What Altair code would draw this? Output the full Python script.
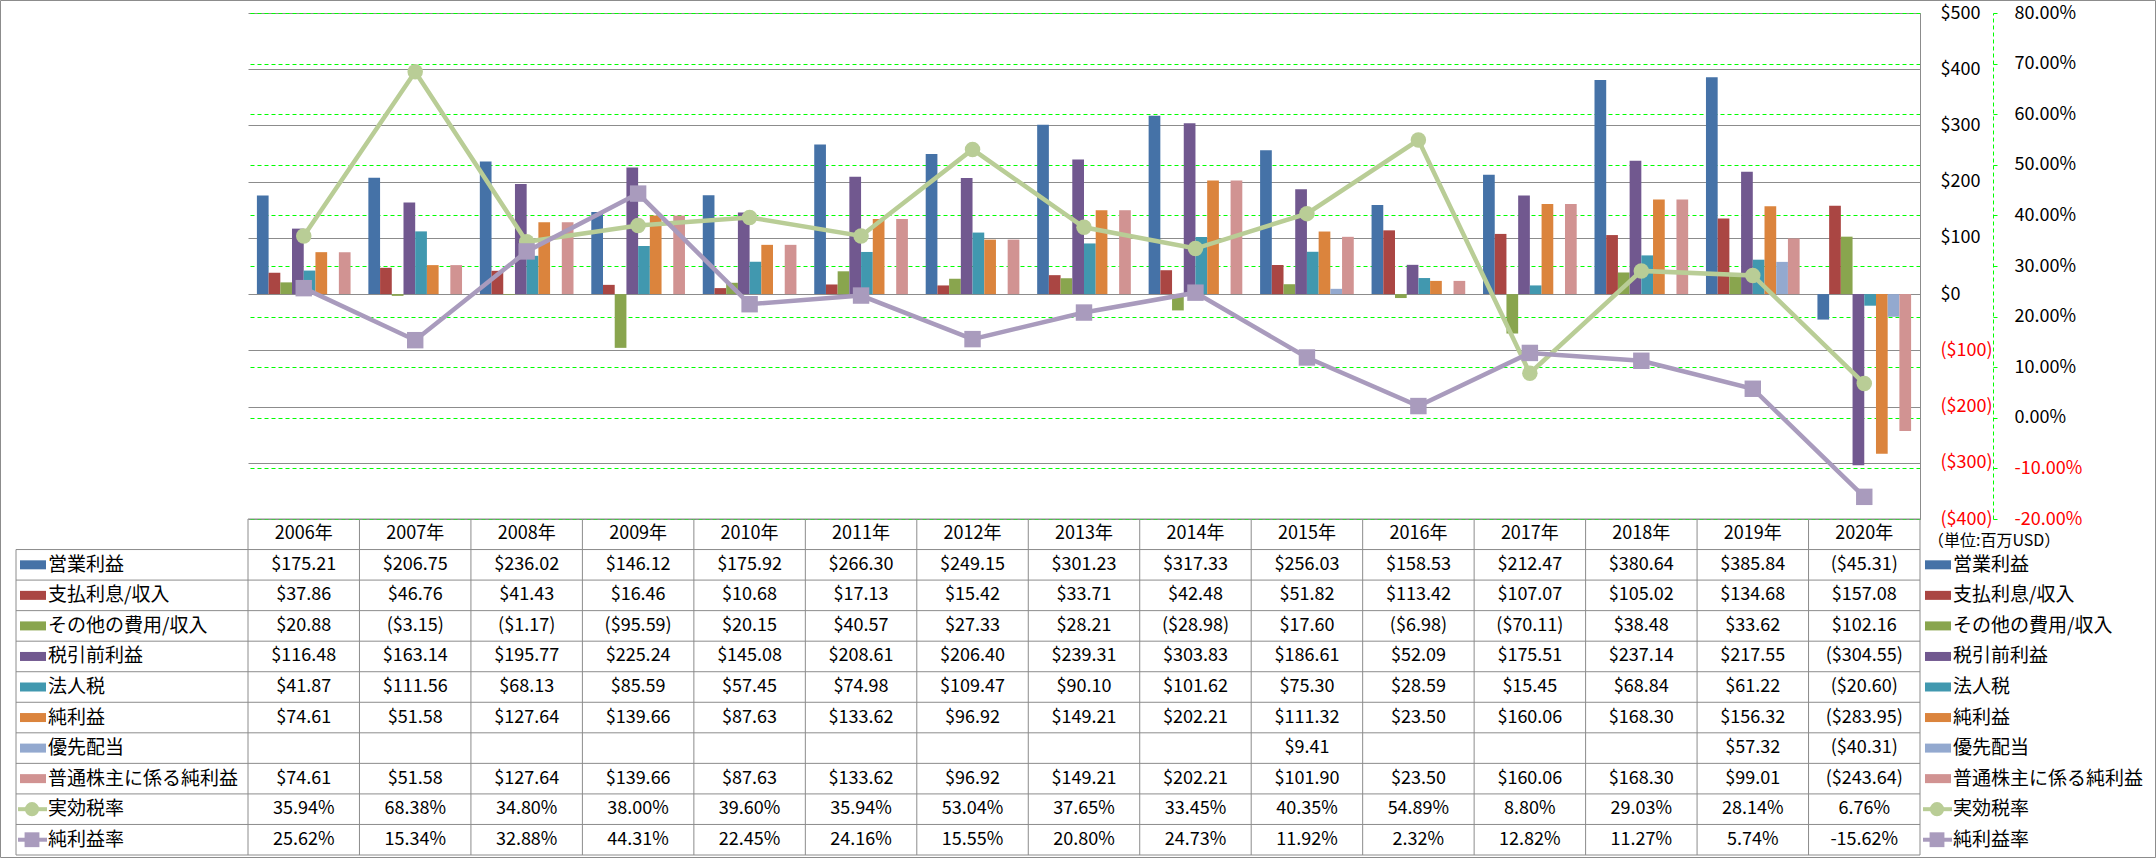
import altair as alt
import pandas as pd

# ---------------- data ----------------
years = [f"{y}年" for y in range(2006, 2021)]

bar_series = ["営業利益", "支払利息/収入", "その他の費用/収入", "税引前利益",
              "法人税", "純利益", "優先配当", "普通株主に係る純利益"]
bar_colors = ["#4572A7", "#AA4643", "#89A54E", "#71588F",
              "#4198AF", "#DB843D", "#93A9CF", "#D19392"]
line_series = ["実効税率", "純利益率"]
line_colors = ["#B9CD96", "#A99BBD"]

operating_income = [175.21, 206.75, 236.02, 146.12, 175.92, 266.30, 249.15, 301.23,
                    317.33, 256.03, 158.53, 212.47, 380.64, 385.84, -45.31]
interest = [37.86, 46.76, 41.43, 16.46, 10.68, 17.13, 15.42, 33.71,
            42.48, 51.82, 113.42, 107.07, 105.02, 134.68, 157.08]
other = [20.88, -3.15, -1.17, -95.59, 20.15, 40.57, 27.33, 28.21,
         -28.98, 17.60, -6.98, -70.11, 38.48, 33.62, 102.16]
pretax = [116.48, 163.14, 195.77, 225.24, 145.08, 208.61, 206.40, 239.31,
          303.83, 186.61, 52.09, 175.51, 237.14, 217.55, -304.55]
tax = [41.87, 111.56, 68.13, 85.59, 57.45, 74.98, 109.47, 90.10,
       101.62, 75.30, 28.59, 15.45, 68.84, 61.22, -20.60]
net = [74.61, 51.58, 127.64, 139.66, 87.63, 133.62, 96.92, 149.21,
       202.21, 111.32, 23.50, 160.06, 168.30, 156.32, -283.95]
preferred = [None, None, None, None, None, None, None, None,
             None, 9.41, None, None, None, 57.32, -40.31]
common = [74.61, 51.58, 127.64, 139.66, 87.63, 133.62, 96.92, 149.21,
          202.21, 101.90, 23.50, 160.06, 168.30, 99.01, -243.64]
eff_tax = [35.94, 68.38, 34.80, 38.00, 39.60, 35.94, 53.04, 37.65,
           33.45, 40.35, 54.89, 8.80, 29.03, 28.14, 6.76]
net_margin = [25.62, 15.34, 32.88, 44.31, 22.45, 24.16, 15.55, 20.80,
              24.73, 11.92, 2.32, 12.82, 11.27, 5.74, -15.62]

bar_values = [operating_income, interest, other, pretax, tax, net, preferred, common]
line_values = [eff_tax, net_margin]

y_ticks = [-400, -300, -200, -100, 0, 100, 200, 300, 400, 500]
pct_ticks = [-0.2, -0.1, 0.0, 0.1, 0.2, 0.3, 0.4, 0.5, 0.6, 0.7, 0.8]
unit_label = "（単位:百万USD）"

HEADER = "_header"
rows_all = [HEADER] + bar_series + line_series

# ---------------- frames ----------------
def money(v):
    if v is None:
        return ""
    return f"(${-v:.2f})" if v < 0 else f"${v:.2f}"

def pct(v):
    return f"{v:.2f}%"

bars_df = pd.DataFrame([
    {"year": yr, "series": s, "value": v}
    for s, vals in zip(bar_series, bar_values)
    for yr, v in zip(years, vals) if v is not None
])
lines_df = pd.DataFrame([
    {"year": yr, "series": s, "rate": v / 100.0}
    for s, vals in zip(line_series, line_values)
    for yr, v in zip(years, vals)
])
table_rows = [{"year": yr, "row": HEADER, "text": yr} for yr in years]
for s, vals in zip(bar_series, bar_values):
    table_rows += [{"year": yr, "row": s, "text": money(v)} for yr, v in zip(years, vals)]
for s, vals in zip(line_series, line_values):
    table_rows += [{"year": yr, "row": s, "text": pct(v)} for yr, v in zip(years, vals)]
table_df = pd.DataFrame(table_rows)

FONT = "Noto Sans CJK JP"
GRID = "#8C8C8C"
LIME = "#00FF00"
W, H = 1672, 506

x_scale = alt.Scale(type="band", domain=years, paddingInner=0, paddingOuter=0)
row_scale = alt.Scale(type="band", domain=rows_all, range=[506, 842], paddingInner=0, paddingOuter=0)
color_scale = alt.Scale(domain=bar_series, range=bar_colors)


def X(bp=None):
    if bp is None:
        return alt.X("year:N", scale=x_scale, axis=None)
    return alt.X("year:N", scale=x_scale, axis=None, bandPosition=bp)


def RY(field="row", bp=0.5):
    return alt.Y(f"{field}:N", scale=row_scale, axis=None, bandPosition=bp)


# ---------------- plot ----------------
bars = alt.Chart(bars_df).mark_bar().encode(
    x=X(),
    xOffset=alt.XOffset("series:N", scale=alt.Scale(domain=bar_series, paddingInner=0, paddingOuter=0.76)),
    y=alt.Y("value:Q",
            scale=alt.Scale(domain=[-400, 500], nice=False),
            axis=alt.Axis(orient="right", values=y_ticks, title=None,
                          labelExpr="datum.value < 0 ? '($' + format(-datum.value, 'd') + ')' : '$' + format(datum.value, 'd')",
                          labelColor={"condition": {"test": "datum.value < 0", "value": "#FF0000"}, "value": "#000000"},
                          grid=True, gridColor=GRID, gridWidth=1,
                          domain=True, domainColor=GRID, domainWidth=1,
                          ticks=False, tickSize=0, labelPadding=20,
                          labelAlign="left", labelFont=FONT, labelFontSize=18)),
    color=alt.Color("series:N", scale=color_scale, legend=None),
)

pct_axis = alt.Axis(orient="right", offset=73, values=pct_ticks, title=None,
                    labelExpr="(datum.value < -0.0001 ? '-' : '') + format(abs(datum.value) * 100, '.2f') + '%'",
                    labelColor={"condition": {"test": "datum.value < -0.0001", "value": "#FF0000"}, "value": "#000000"},
                    grid=True, gridColor=LIME, gridDash=[4, 3], gridWidth=1,
                    domain=True, domainColor=LIME, domainDash=[4, 3], domainWidth=1,
                    ticks=True, tickColor=LIME, tickSize=4, labelPadding=17,
                    labelAlign="left", labelFont=FONT, labelFontSize=18)
pct_scale = alt.Scale(domain=[-0.2, 0.8], nice=False)

green_df = lines_df[lines_df.series == line_series[0]]
purple_df = lines_df[lines_df.series == line_series[1]]

green_line = alt.Chart(green_df).mark_line(color=line_colors[0], strokeWidth=4.5).encode(
    x=X(), y=alt.Y("rate:Q", scale=pct_scale, axis=pct_axis))
green_pts = alt.Chart(green_df).mark_point(shape="circle", filled=True, size=240, opacity=1,
                                           color=line_colors[0]).encode(
    x=X(), y=alt.Y("rate:Q", scale=pct_scale, axis=None))
purple_line = alt.Chart(purple_df).mark_line(color=line_colors[1], strokeWidth=4.5).encode(
    x=X(), y=alt.Y("rate:Q", scale=pct_scale, axis=None))
purple_pts = alt.Chart(purple_df).mark_point(shape="square", filled=True, size=270, opacity=1,
                                             color=line_colors[1]).encode(
    x=X(), y=alt.Y("rate:Q", scale=pct_scale, axis=None))

# ---------------- data table ----------------
table_text = alt.Chart(table_df).mark_text(font=FONT, fontSize=18, color="#000000", baseline="middle").encode(
    x=X(), y=RY(), text="text:N")

hrule_df = pd.DataFrame({"row": rows_all[1:]})
h_rules = alt.Chart(hrule_df).mark_rule(color=GRID, strokeWidth=1).encode(
    x=alt.value(-232), x2=alt.value(W), y=RY(bp=0))
h_top = alt.Chart(pd.DataFrame({"row": [HEADER]})).mark_rule(color=GRID, strokeWidth=1).encode(
    x=alt.value(0), x2=alt.value(W), y=RY(bp=0))
h_bottom = alt.Chart(pd.DataFrame({"row": [rows_all[-1]]})).mark_rule(color=GRID, strokeWidth=1).encode(
    x=alt.value(-232), x2=alt.value(W), y=RY(bp=1))

v_df = pd.DataFrame({"year": years, "top": HEADER, "bottom": rows_all[-1]})
v_rules = alt.Chart(v_df).mark_rule(color=GRID, strokeWidth=1).encode(
    x=X(bp=0), y=RY("top", bp=0), y2=alt.Y2("bottom:N", bandPosition=1))
v_right = alt.Chart(v_df.tail(1)).mark_rule(color=GRID, strokeWidth=1).encode(
    x=X(bp=1), y=RY("top", bp=0), y2=alt.Y2("bottom:N", bandPosition=1))
v_legend = alt.Chart(pd.DataFrame({"top": [rows_all[1]], "bottom": [rows_all[-1]]})).mark_rule(
    color=GRID, strokeWidth=1).encode(
    x=alt.value(-232), y=RY("top", bp=0), y2=alt.Y2("bottom:N", bandPosition=1))

# ---------------- legends (left in table, right side) ----------------
leg_bar_df = pd.DataFrame({"row": bar_series, "series": bar_series})
leg_all_df = pd.DataFrame({"row": bar_series + line_series})


def legend_block(x0):
    sw = alt.Chart(leg_bar_df).mark_rule(strokeWidth=9, strokeCap="butt").encode(
        x=alt.value(x0), x2=alt.value(x0 + 26), y=RY(),
        color=alt.Color("series:N", scale=color_scale, legend=None))
    txt = alt.Chart(leg_all_df).mark_text(font=FONT, fontSize=19, align="left", baseline="middle",
                                          color="#000000").encode(
        x=alt.value(x0 + 28), y=RY(), text="row:N")
    layers = [sw, txt]
    for name, col, shape, size in [(line_series[0], line_colors[0], "circle", 200),
                                    (line_series[1], line_colors[1], "square", 220)]:
        d = pd.DataFrame({"row": [name]})
        layers.append(alt.Chart(d).mark_rule(color=col, strokeWidth=4).encode(
            x=alt.value(x0 - 2), x2=alt.value(x0 + 27), y=RY()))
        layers.append(alt.Chart(d).mark_point(shape=shape, filled=True, size=size, opacity=1,
                                              color=col).encode(
            x=alt.value(x0 + 12), y=RY()))
    return layers


left_legend = legend_block(-228)
right_legend = legend_block(1677)

unit = alt.Chart(pd.DataFrame({"row": [HEADER], "text": [unit_label]})).mark_text(
    font=FONT, fontSize=16, align="left", baseline="middle", dy=7, color="#000000").encode(
    x=alt.value(1680), y=RY(), text="text:N")

border = alt.Chart(pd.DataFrame({"a": [0]})).mark_rect(fillOpacity=0, stroke=GRID, strokeWidth=1).encode(
    x=alt.value(-247.5), x2=alt.value(1907.5), y=alt.value(-12.5), y2=alt.value(844.5))

chart = alt.layer(
    bars, green_line, green_pts, purple_line, purple_pts,
    table_text, h_rules, h_top, h_bottom, v_rules, v_right, v_legend,
    *left_legend, *right_legend, unit, border,
).resolve_scale(
    y="independent"
).properties(
    width=W, height=H,
    padding={"left": 248, "top": 13, "right": 236, "bottom": 339},
    autosize=alt.AutoSizeParams(type="none"),
    background="#FFFFFF",
).configure_view(strokeWidth=0)

chart.save("out.html", embed_options={"renderer": "svg", "actions": False})
